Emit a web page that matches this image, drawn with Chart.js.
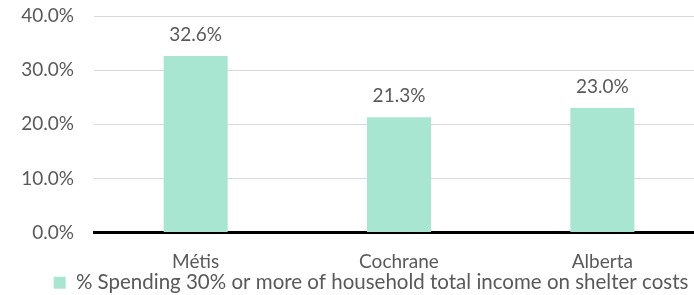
<!DOCTYPE html>
<html>
<head>
<meta charset="utf-8">
<script src="https://cdn.jsdelivr.net/npm/chart.js@4.4.0/dist/chart.umd.min.js"></script>
<style>
  html, body { margin: 0; padding: 0; background: #fff; overflow: hidden; }
  #wrap { width: 704px; height: 295px; }
</style>
</head>
<body>
<div id="wrap"><canvas id="shelterChart" width="704" height="295"></canvas></div>
<script>
// Chart data
const categories = ['Métis', 'Cochrane', 'Alberta'];
const spendingValues = [32.6, 21.3, 23.0];
const yTicks = [0, 10, 20, 30, 40];
const seriesLabel = '% Spending 30% or more of household total income on shelter costs';

const textColor = '#595959';
const fontFamily = 'Lato, "Open Sans", sans-serif';
const fontSize = 19;

// Draw value labels above the bars
const valueLabels = {
    id: 'valueLabels',
    afterDatasetsDraw(chart) {
        const ctx = chart.ctx;
        const meta = chart.getDatasetMeta(0);
        ctx.save();
        ctx.fillStyle = textColor;
        ctx.font = fontSize + 'px ' + fontFamily;
        ctx.textAlign = 'center';
        ctx.textBaseline = 'middle';
        meta.data.forEach((bar, i) => {
            ctx.fillText(spendingValues[i].toFixed(1) + '%', bar.x, bar.y - 21);
        });
        ctx.restore();
    }
};

// Nudge the legend, like the original
const legendShift = {
    id: 'legendShift',
    afterLayout(chart) {
        chart.legend.left += 19;
        chart.legend.right += 19;
    }
};

document.addEventListener('DOMContentLoaded', function() {
    const ctx = document.getElementById('shelterChart').getContext('2d');
    new Chart(ctx, {
        type: 'bar',
        data: {
            labels: categories,
            datasets: [{
                label: seriesLabel,
                data: spendingValues,
                backgroundColor: '#a8e6d2',
                borderWidth: 0,
                barPercentage: 0.315,
                categoryPercentage: 1
            }]
        },
        options: {
            responsive: false,
            animation: false,
            layout: { padding: { top: 16, left: 0, right: 0, bottom: -8 } },
            plugins: {
                tooltip: { enabled: false },
                legend: {
                    position: 'bottom',
                    labels: {
                        boxWidth: 12,
                        boxHeight: 12,
                        padding: 2,
                        color: textColor,
                        font: { family: fontFamily, size: 20.5 }
                    }
                }
            },
            scales: {
                x: {
                    afterFit(scale) { scale.height = 38; },
                    grid: { display: false, drawTicks: false },
                    border: { display: true, color: '#000', width: 3 },
                    ticks: {
                        color: textColor,
                        padding: 18,
                        font: { family: fontFamily, size: fontSize }
                    }
                },
                y: {
                    min: 0,
                    max: 40,
                    afterFit(scale) {
                        scale.width = 94;
                        scale.paddingTop = 0;
                        scale.paddingBottom = 0;
                    },
                    afterBuildTicks(scale) {
                        scale.ticks = yTicks.map(v => ({ value: v }));
                    },
                    grid: { color: '#d9d9d9', lineWidth: 1, drawTicks: false },
                    border: { display: false },
                    ticks: {
                        color: textColor,
                        padding: 20,
                        font: { family: fontFamily, size: fontSize },
                        callback: v => v.toFixed(1) + '%'
                    }
                }
            }
        },
        plugins: [valueLabels, legendShift]
    });
});
</script>
</body>
</html>
